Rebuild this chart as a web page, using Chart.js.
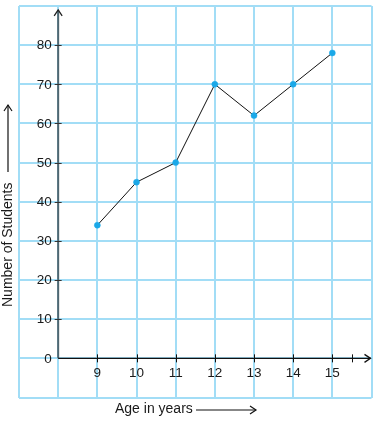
<!DOCTYPE html>
<html>
<head>
<meta charset="utf-8">
<script src="https://cdn.jsdelivr.net/npm/chart.js@4/dist/chart.umd.min.js"></script>
<style>
  html, body { margin: 0; padding: 0; background: #fff; }
  #wrap { width: 376px; height: 422px; position: relative; }
</style>
</head>
<body>
<div id="wrap"><canvas id="c" width="376" height="422"></canvas></div>
<script>
const ages = [9, 10, 11, 12, 13, 14, 15];
const students = [34, 45, 50, 70, 62, 70, 78];
const xTickLabels = ['9', '10', '11', '12', '13', '14', '15'];
const yTickValues = [0, 10, 20, 30, 40, 50, 60, 70, 80];
const xTitle = 'Age in years';
const yTitle = 'Number of Students';

const FONT = '"Liberation Sans", Arial, sans-serif';

function arrowHead(ctx, x, y, dir) {
  ctx.beginPath();
  if (dir === 'up') {
    ctx.moveTo(x - 4, y + 6); ctx.lineTo(x, y); ctx.lineTo(x + 4, y + 6);
  } else {
    ctx.moveTo(x - 6, y - 4); ctx.lineTo(x, y); ctx.lineTo(x - 6, y + 4);
  }
  ctx.stroke();
}

const axesPlugin = {
  id: 'axesDecor',
  beforeDatasetsDraw(chart) {
    const ctx = chart.ctx;
    const xs = chart.scales.x, ys = chart.scales.y;
    const ox = xs.getPixelForValue(8), oy = ys.getPixelForValue(0);
    ctx.save();
    // y axis
    ctx.strokeStyle = '#4f6670';
    ctx.lineWidth = 2;
    const yTop = ys.getPixelForValue(89);
    ctx.beginPath(); ctx.moveTo(ox, oy); ctx.lineTo(ox, yTop); ctx.stroke();
    ctx.lineWidth = 1.3;
    ctx.strokeStyle = '#222';
    arrowHead(ctx, ox, yTop, 'up');
    // y ticks
    ctx.strokeStyle = '#333';
    ctx.lineWidth = 1;
    yTickValues.forEach(v => {
      if (v === 0) return;
      const py = Math.round(ys.getPixelForValue(v)) + 0.5;
      ctx.beginPath(); ctx.moveTo(ox - 3.5, py); ctx.lineTo(ox + 3.5, py); ctx.stroke();
    });
    // x axis
    ctx.strokeStyle = '#111';
    ctx.lineWidth = 1.3;
    const xEnd = xs.getPixelForValue(16) - 1;
    ctx.beginPath(); ctx.moveTo(ox, oy); ctx.lineTo(xEnd, oy); ctx.stroke();
    arrowHead(ctx, xEnd, oy, 'right');
    // x ticks
    ctx.lineWidth = 1;
    ages.concat([15.5]).forEach(v => {
      const px = Math.round(xs.getPixelForValue(v)) + 0.5;
      ctx.beginPath(); ctx.moveTo(px, oy - 4); ctx.lineTo(px, oy + 4); ctx.stroke();
    });
    // tick labels
    ctx.fillStyle = '#1a1a1a';
    ctx.font = '13.5px ' + FONT;
    ctx.textAlign = 'right';
    ctx.textBaseline = 'middle';
    yTickValues.forEach(v => {
      ctx.fillText(String(v), ox - 6.5, ys.getPixelForValue(v) + 0.5);
    });
    ctx.textAlign = 'center';
    ctx.textBaseline = 'middle';
    ages.forEach((v, i) => {
      ctx.fillText(xTickLabels[i], xs.getPixelForValue(v), oy + 15);
    });
    // titles
    ctx.font = '14px ' + FONT;
    ctx.textAlign = 'left';
    ctx.fillText(xTitle, 115, 409);
    ctx.strokeStyle = '#111';
    ctx.lineWidth = 1.2;
    ctx.beginPath(); ctx.moveTo(196, 410); ctx.lineTo(256, 410); ctx.stroke();
    arrowHead(ctx, 256, 410, 'right');
    ctx.save();
    ctx.translate(8, 307);
    ctx.rotate(-Math.PI / 2);
    ctx.textAlign = 'left';
    ctx.textBaseline = 'middle';
    ctx.fillText(yTitle, 0, 0);
    ctx.restore();
    ctx.beginPath(); ctx.moveTo(8, 172); ctx.lineTo(8, 105); ctx.stroke();
    arrowHead(ctx, 8, 105, 'up');
    ctx.restore();
  }
};

new Chart(document.getElementById('c'), {
  type: 'line',
  data: {
    datasets: [{
      data: ages.map((a, i) => ({ x: a, y: students[i] })),
      borderColor: '#111',
      borderWidth: 1,
      pointBackgroundColor: '#1aa8e8',
      pointBorderColor: '#1aa8e8',
      pointRadius: 3,
      pointBorderWidth: 0.5,
      tension: 0,
      fill: false
    }]
  },
  options: {
    responsive: false,
    animation: false,
    events: [],
    layout: { padding: { left: 19, right: 4.5, top: 6, bottom: 24.5 } },
    plugins: { legend: { display: false }, tooltip: { enabled: false } },
    scales: {
      x: {
        type: 'linear', min: 7, max: 16,
        ticks: { stepSize: 1, display: false },
        grid: { color: '#a2ddf6', lineWidth: 2, drawTicks: false },
        border: { display: false }
      },
      y: {
        type: 'linear', min: -10, max: 90,
        ticks: { stepSize: 10, display: false },
        grid: { color: '#a2ddf6', lineWidth: 2, drawTicks: false },
        border: { display: false }
      }
    }
  },
  plugins: [axesPlugin]
});
</script>
</body>
</html>
